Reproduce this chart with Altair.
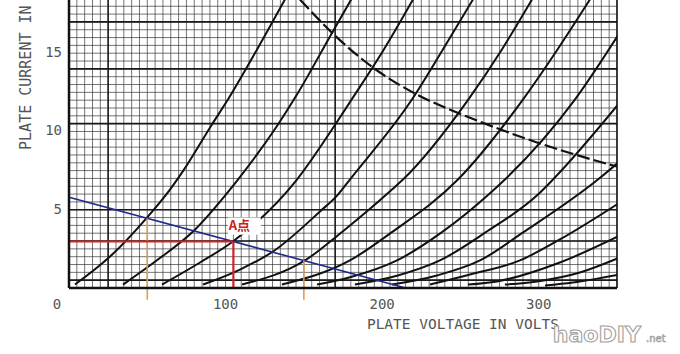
import altair as alt
import pandas as pd

# ---- characteristic curves (plate volts, plate mA) ----
curve_names = ["A", "B", "C", "D", "E", "F", "G", "H", "I", "J", "K", "L", "M"]
A_v = [3.8, 26.2, 49.8, 64.5, 73.0, 91.3, 101.5, 120.1, 137.9]
A_i = [0.22, 2.01, 4.50, 6.29, 7.50, 10.45, 12.04, 15.24, 18.43]
B_v = [34.5, 56.8, 79.2, 102.8, 107.9, 133.5, 145.6, 166.7, 180.2]
B_i = [0.22, 1.82, 3.61, 6.29, 6.93, 10.45, 12.36, 16.07, 18.43]
C_v = [59.4, 83.7, 104.7, 145.6, 170.5, 180.5, 201.1, 219.7]
C_i = [0.22, 1.63, 2.97, 6.93, 10.51, 12.04, 15.24, 18.43]
D_v = [85.6, 109.2, 130.3, 160.3, 171.8, 179.4, 219.0, 238.8, 258.0]
D_i = [0.22, 1.18, 2.33, 4.89, 5.97, 6.93, 12.04, 15.24, 18.43]
E_v = [110.5, 150.7, 174.0, 206.3, 213.3, 255.0, 276.5, 295.7]
E_i = [0.22, 1.76, 3.55, 6.29, 6.93, 12.04, 15.24, 18.43]
F_v = [136.0, 179.4, 206.0, 248.4, 289.9, 312.0, 332.7]
F_i = [0.22, 1.76, 3.55, 6.93, 12.04, 15.24, 18.43]
G_v = [158.4, 180.0, 209.5, 238.0, 268.0, 278.4, 323.1, 351.8]
G_i = [0.22, 0.70, 1.76, 3.55, 5.97, 6.93, 12.04, 16.33]
H_v = [182.6, 210.0, 236.9, 266.0, 299.5, 309.1, 351.8]
H_i = [0.22, 0.80, 1.76, 3.55, 5.97, 6.93, 11.85]
I_v = [206.3, 235.0, 262.5, 290.0, 337.8, 351.8]
I_i = [0.22, 0.80, 1.76, 3.55, 6.93, 8.10]
J_v = [230.5, 256.1, 288.0, 313.5, 351.8]
J_i = [0.22, 0.86, 1.76, 3.10, 5.46]
K_v = [254.8, 273.3, 313.5, 351.8]
K_i = [0.22, 0.42, 1.63, 3.35]
L_v = [278.4, 298.9, 326.3, 351.8]
L_i = [0.22, 0.42, 0.99, 1.95]
M_v = [304.0, 321.8, 351.8]
M_i = [0.16, 0.35, 0.86]

# plate dissipation limit (dashed)
diss_v = [147.5, 171.1, 194.1, 222.2, 247.8, 272.0, 298.9, 323.1, 349.9]
diss_i = [18.43, 16.01, 14.09, 12.36, 11.21, 10.26, 9.30, 8.53, 7.76]

# load line and operating point
load_v = [0, 215]
load_i = [5.8, 0]
a_point_v = 105
a_point_i = 2.97
swing_v = [50, 150]
swing_i = [4.45, 1.75]

# axes
x_tick_vals = [100, 200, 300]
y_tick_vals = [5, 10, 15]
grid_v = [v * 5 for v in range(0, 71)]
grid_i = [k * 0.5 for k in range(0, 37)]
heavy_i = [0.5, 3.0, 5.0, 10.5, 14.0, 17.0]
heavy_v = [25, 170]

XMAX = 350
YMAX = 18.4
xs = alt.Scale(domain=[0, XMAX], nice=False, zero=False)
ys = alt.Scale(domain=[0, YMAX], nice=False, zero=False)

rows = []
src = {"A": (A_v, A_i), "B": (B_v, B_i), "C": (C_v, C_i), "D": (D_v, D_i),
       "E": (E_v, E_i), "F": (F_v, F_i), "G": (G_v, G_i), "H": (H_v, H_i),
       "I": (I_v, I_i), "J": (J_v, J_i), "K": (K_v, K_i), "L": (L_v, L_i),
       "M": (M_v, M_i)}
for name in curve_names:
    vv, ii = src[name]
    for k, (v, i) in enumerate(zip(vv, ii)):
        rows.append({"curve": name, "k": k, "V": v, "I": i})
curves_df = pd.DataFrame(rows)
diss_df = pd.DataFrame({"V": diss_v, "I": diss_i, "k": range(len(diss_v))})
load_df = pd.DataFrame({"V": load_v, "I": load_i})

X = lambda f="V": alt.X(f"{f}:Q", scale=xs, axis=None)
Y = lambda f="I": alt.Y(f"{f}:Q", scale=ys, axis=None)

grid_vl = alt.Chart(pd.DataFrame({"V": grid_v})).mark_rule(
    color="#333333", strokeWidth=0.8, opacity=0.85).encode(x=X())
grid_hl = alt.Chart(pd.DataFrame({"I": grid_i})).mark_rule(
    color="#333333", strokeWidth=0.8, opacity=0.85).encode(y=Y())
heavy_hl = alt.Chart(pd.DataFrame({"I": heavy_i})).mark_rule(
    color="#1a1a1a", strokeWidth=1.6).encode(y=Y())
heavy_vl = alt.Chart(pd.DataFrame({"V": heavy_v})).mark_rule(
    color="#1a1a1a", strokeWidth=1.5).encode(x=X())

frame_left = alt.Chart(pd.DataFrame({"V": [0]})).mark_rule(
    color="#111", strokeWidth=2.5).encode(x=X())
frame_right = alt.Chart(pd.DataFrame({"V": [XMAX]})).mark_rule(
    color="#111", strokeWidth=1.5).encode(x=X())
frame_bottom = alt.Chart(pd.DataFrame({"I": [0]})).mark_rule(
    color="#111", strokeWidth=2.5).encode(y=Y())

curves = alt.Chart(curves_df).mark_line(
    color="#111", strokeWidth=2, interpolate="monotone", clip=True).encode(
    x=X(), y=Y(), detail="curve:N", order="k:Q")

diss = alt.Chart(diss_df).mark_line(
    color="#111", strokeWidth=2.2, strokeDash=[13, 4], interpolate="monotone",
    clip=True).encode(x=X(), y=Y(), order="k:Q")

load = alt.Chart(load_df).mark_line(color="#1c2a8a", strokeWidth=1.6).encode(
    x=X(), y=Y())

swing_df = pd.DataFrame({"V": swing_v, "I": swing_i, "I2": [-0.75, -0.75]})
swing = alt.Chart(swing_df).mark_rule(color="#e59a55", strokeWidth=1.6).encode(
    x=X(), y=Y(), y2="I2:Q")

red_h = alt.Chart(pd.DataFrame({"V": [0], "V2": [a_point_v], "I": [a_point_i]})).mark_rule(
    color="#d42222", strokeWidth=2).encode(x=X(), x2="V2:Q", y=Y())
red_v = alt.Chart(pd.DataFrame({"V": [a_point_v], "I": [a_point_i], "I2": [0]})).mark_rule(
    color="#d42222", strokeWidth=2.2).encode(x=X(), y=Y(), y2="I2:Q")

label_box = alt.Chart(pd.DataFrame({"V": [101.5], "V2": [122.5], "I": [4.5], "I2": [3.4]})).mark_rect(
    color="white").encode(x=X(), x2="V2:Q", y=Y(), y2="I2:Q")
a_label = alt.Chart(pd.DataFrame({"V": [102.0], "I": [3.95], "t": ["A点"]})).mark_text(
    color="#cc2020", font="Noto Sans CJK SC", fontSize=13, fontWeight="bold",
    align="left", baseline="middle").encode(x=X(), y=Y(), text="t:N")

lab_font = "DejaVu Sans Mono"
lab_col = "#555555"
xt = alt.Chart(pd.DataFrame({"V": x_tick_vals, "I": [-1.09] * 3,
                             "t": [str(v) for v in x_tick_vals]})).mark_text(
    font=lab_font, fontSize=14, color=lab_col, align="center", baseline="middle").encode(
    x=X(), y=Y(), text="t:N")
x0 = alt.Chart(pd.DataFrame({"V": [0], "I": [-1.09], "t": ["0"]})).mark_text(
    font=lab_font, fontSize=14, color=lab_col, align="center", baseline="middle", dx=-12).encode(
    x=X(), y=Y(), text="t:N")
yt = alt.Chart(pd.DataFrame({"V": [0] * 3, "I": y_tick_vals,
                             "t": [str(v) for v in y_tick_vals]})).mark_text(
    font=lab_font, fontSize=14, color=lab_col, align="right", baseline="middle", dx=-7).encode(
    x=X(), y=Y(), text="t:N")
xtitle = alt.Chart(pd.DataFrame({"V": [251.6], "I": [-2.36], "t": ["PLATE VOLTAGE IN VOLTS"]})).mark_text(
    font=lab_font, fontSize=14.5, color=lab_col, align="center", baseline="middle").encode(
    x=X(), y=Y(), text="t:N")
ytitle = alt.Chart(pd.DataFrame({"V": [-27.5], "I": [8.82], "t": ["PLATE CURRENT IN MILLIAMPERES"]})).mark_text(
    font=lab_font, fontSize=15, color=lab_col, align="left", baseline="middle", angle=270).encode(
    x=X(), y=Y(), text="t:N")
wm = alt.Chart(pd.DataFrame({"V": [309.0], "I": [-3.0], "t": ["haoDIY"]})).mark_text(
    font="DejaVu Sans", fontSize=22, fontWeight="bold", fill="white", stroke="#a0a0a0",
    strokeWidth=1.1, align="left", baseline="middle").encode(x=X(), y=Y(), text="t:N")
wm2 = alt.Chart(pd.DataFrame({"V": [368.5], "I": [-3.25], "t": [".net"]})).mark_text(
    font="DejaVu Sans", fontSize=10, fill="#dddddd", stroke="#9a9a9a", strokeWidth=0.6,
    align="left", baseline="middle").encode(x=X(), y=Y(), text="t:N")

chart = alt.layer(
    grid_vl, grid_hl, heavy_hl, heavy_vl, curves, diss, load, swing, red_h, red_v,
    frame_left, frame_right, frame_bottom, label_box, a_label,
    xt, x0, yt, xtitle, ytitle, wm, wm2
).properties(
    width=548, height=288,
    autosize=alt.AutoSizeParams(type="none"),
    padding={"left": 69, "top": 0, "right": 63, "bottom": 66},
    background="white",
).configure_view(strokeWidth=0)

chart.save("out.html", embed_options={"renderer": "svg", "actions": False})
